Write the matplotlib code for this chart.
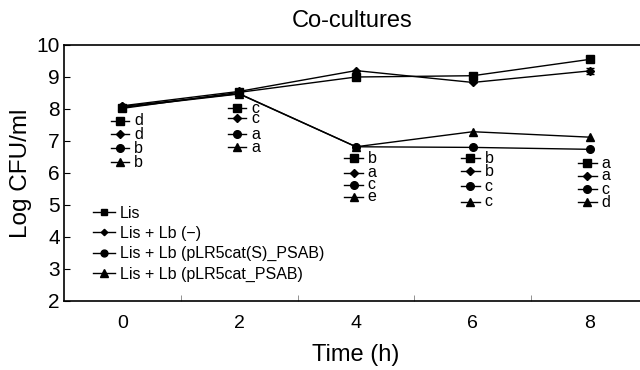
import numpy as np
import matplotlib
matplotlib.use("Agg")
import matplotlib.pyplot as plt

plt.rcParams["font.family"] = ["Liberation Sans", "DejaVu Sans"]

# ── Data ─────────────────────────────────────────────────────
times = ["0", "2", "4", "6", "8"]
series_names = ["Lis", "Lis + Lb (\u2212)", "Lis + Lb (pLR5cat(S)_PSAB)",
                "Lis + Lb (pLR5cat_PSAB)"]
lis = [8.02, 8.52, 9.00, 9.04, 9.55]
lis_lb = [8.10, 8.55, 9.20, 8.83, 9.19]
lis_lb_s = [8.05, 8.47, 6.82, 6.80, 6.74]
lis_lb_cat = [8.08, 8.48, 6.82, 7.29, 7.12]
err_lis_lb = [0.0, 0.0, 0.0, 0.0, 0.10]

# significance letters, per time point, in series order
letters = [["d", "d", "b", "b"],
           ["c", "c", "a", "a"],
           ["b", "a", "c", "e"],
           ["b", "b", "c", "c"],
           ["a", "a", "c", "d"]]
# vertical position (log CFU/ml) of each letter row
letter_y = [[7.63, 7.21, 6.78, 6.33],
            [8.02, 7.71, 7.21, 6.80],
            [6.46, 6.01, 5.63, 5.26],
            [6.46, 6.05, 5.59, 5.10],
            [6.30, 5.92, 5.49, 5.08]]

markers = ["s", "D", "o", "^"]
msizes = [5.2, 3.6, 5.5, 5.8]

# ── Plot ─────────────────────────────────────────────────────
fig = plt.figure(figsize=(6.4, 3.7), dpi=100)
ax = fig.add_axes([64 / 640, (370 - 301) / 370, (648 - 64) / 640, (301 - 45) / 370])

x = np.arange(len(times))
all_series = [lis, lis_lb, lis_lb_s, lis_lb_cat]
for i, ys in enumerate(all_series):
    ax.plot(x, ys, "-", color="black", lw=1.0, marker=markers[i],
            ms=msizes[i], label=series_names[i], zorder=3)
ax.errorbar(x, lis_lb, yerr=err_lis_lb, fmt="none", ecolor="black",
            elinewidth=1, capsize=3, zorder=2)

# letter keys under each time point
seg = 0.08
for t in range(len(times)):
    for j in range(4):
        yy = letter_y[t][j]
        ax.plot([t - 0.02 - seg, t - 0.02 + seg], [yy, yy], "-", color="black",
                lw=1.0, zorder=3)
        ax.plot([t - 0.02], [yy], marker=markers[j], color="black",
                ms=msizes[j], zorder=4)
        ax.text(t + 0.1, yy, letters[t][j], ha="left", va="center",
                fontsize=11.5)

ax.set_xlim(-0.5, 4.5)
ax.set_ylim(2, 10)
ax.set_xticks(x)
ax.set_xticklabels(times, fontsize=14)
ax.set_xticks(x[:-1] + 0.5, minor=True)
ax.tick_params(axis="x", which="major", length=0, pad=10)
ax.tick_params(axis="x", which="minor", direction="in", length=4, width=0.6,
               color="gray")
ax.set_yticks(np.arange(2, 11, 1))
ax.tick_params(axis="y", direction="in", length=4, width=0.8, labelsize=15,
               pad=3)
ax.spines["right"].set_visible(False)
for s in ["left", "bottom", "top"]:
    ax.spines[s].set_linewidth(1.2)

ax.set_xlabel("Time (h)", fontsize=17, labelpad=9)
ax.set_ylabel("Log CFU/ml", fontsize=17.5, labelpad=3)
ax.set_title("Co-cultures", fontsize=17, pad=13, x=0.4926)

ax.legend(loc="lower left", bbox_to_anchor=(0.025, 0.02), frameon=False,
          fontsize=11.5, handlelength=1.4, handletextpad=0.3,
          labelspacing=0.32, markerscale=0.9)

fig.savefig("out.png", dpi=100)
